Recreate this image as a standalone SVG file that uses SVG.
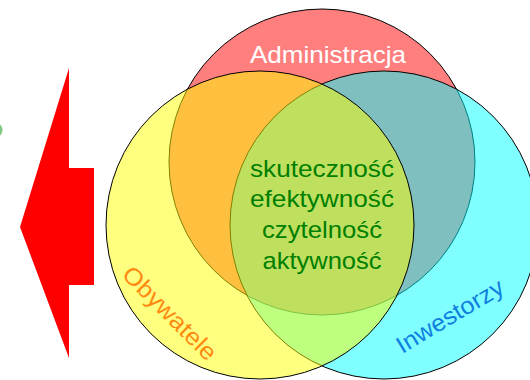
<svg xmlns="http://www.w3.org/2000/svg" width="530" height="380" viewBox="0 0 530 380">
<style>
.c{fill-opacity:0.5;stroke:#000;stroke-width:1}
.t{font-family:"Liberation Sans",Arial,sans-serif;font-size:24px;text-anchor:middle}
</style>
<rect width="530" height="380" fill="#fff"/>
<ellipse cx="-2" cy="130" rx="4.5" ry="6" fill="#80C880"/>
<g id="connectors">
<polygon points="20,227 69,68 69,168 94,168 94,285 69,285 69,358" fill="#FF0000"/>
</g>
<g id="administracja">
<circle class="c" cx="322" cy="162" r="153" fill="#FF0000"/>
</g>
<g id="inwestorzy">
<circle class="c" cx="384" cy="225" r="154" fill="#00FFFF"/>
</g>
<g id="obywatele">
<circle class="c" cx="260" cy="225" r="154" fill="#FFFF00"/>
</g>
<g id="labels">
<text class="t" x="328" y="63" fill="#fff" textLength="156" lengthAdjust="spacingAndGlyphs">Administracja</text>
<text class="t" transform="translate(164,319) rotate(45)" fill="#FF8A10" textLength="122" lengthAdjust="spacingAndGlyphs">Obywatele</text>
<text class="t" transform="translate(454,323) rotate(-31)" fill="#1080E0" textLength="121" lengthAdjust="spacingAndGlyphs">Inwestorzy</text>
</g>
<g id="center" fill="#008000">
<text class="t" x="322" y="177" textLength="144" lengthAdjust="spacingAndGlyphs">skuteczność</text>
<text class="t" x="322" y="207" textLength="144" lengthAdjust="spacingAndGlyphs">efektywność</text>
<text class="t" x="322" y="238" textLength="120" lengthAdjust="spacingAndGlyphs">czytelność</text>
<text class="t" x="322" y="269" textLength="119" lengthAdjust="spacingAndGlyphs">aktywność</text>
</g>
</svg>
